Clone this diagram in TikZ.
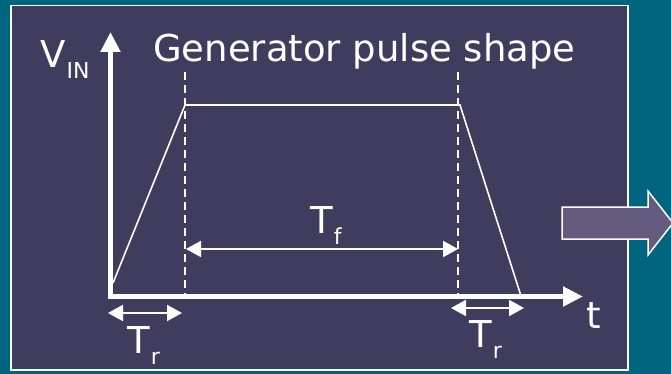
\documentclass[tikz,border=0pt]{standalone}
\usepackage{fontspec}
\setmainfont{DejaVu Sans}
\usetikzlibrary{arrows.meta}
\definecolor{bgteal}{HTML}{006680}
\definecolor{panelcol}{HTML}{3F3D5E}
\definecolor{arrowfill}{HTML}{655B7E}
\newcommand\lowsub[1]{\hspace{1pt}\raisebox{-11pt}{\fontsize{22}{26}\selectfont #1}}
\begin{document}
\begin{tikzpicture}[x=1pt,y=-1pt,
  lbl/.style={text=white,inner sep=0pt,anchor=base west,font=\fontsize{37}{42}\selectfont},
  axisline/.style={white,line width=5pt,-{Triangle[length=20pt 0 1,width=19pt 0 1]}},
  pulse/.style={white,line width=1.6pt,line join=miter},
  guide/.style={white,line width=1.5pt,dash pattern=on 8pt off 5pt},
  dimline/.style={white,line width=2pt,{Triangle[length=15pt 0 1,width=16pt 0 1]}-{Triangle[length=15pt 0 1,width=16pt 0 1]}},
  bigarrow/.style={fill=arrowfill,draw=white,line width=1.5pt,line join=miter},
]
\fill[bgteal] (0,0) rectangle (671,374);
\useasboundingbox (0,0) rectangle (671,374);
\draw[fill=panelcol,draw=white,line width=1.2pt] (11,5.5) rectangle (628,370);

% big arrow
\draw[bigarrow] (562,207) -- (648,207) -- (648,191) -- (673,223) -- (648,255) -- (648,239) -- (562,239) -- cycle;

% coordinates
\coordinate (ybot) at (110.5,299);
\coordinate (ytop) at (110.5,32);
\coordinate (xleft) at (108,296.5);
\coordinate (xright) at (583,296.5);
\coordinate (p0) at (113,283);
\coordinate (p1) at (185,105);
\coordinate (p2) at (460,105);
\coordinate (p3) at (521,296);
\coordinate (d1top) at (185,72);
\coordinate (d1bot) at (185,296);
\coordinate (d2top) at (458,72);
\coordinate (d2bot) at (458,296);
\coordinate (tfl) at (186,249);
\coordinate (tfr) at (458,249);
\coordinate (trla) at (108,313);
\coordinate (trlb) at (182,313);
\coordinate (trra) at (451,308);
\coordinate (trrb) at (524,308);

% guides
\draw[guide] (d1top) -- (d1bot);
\draw[guide] (d2top) -- (d2bot);

% pulse
\draw[pulse] (p0) -- (p1) -- (p2) -- (p3);

% axes
\draw[axisline] (ybot) -- (ytop);
\draw[axisline] (xleft) -- (xright);

% dimension arrows
\draw[dimline] (tfl) -- (tfr);
\draw[dimline] (trla) -- (trlb);
\draw[dimline] (trra) -- (trrb);

% labels
\node[lbl] (title) at (153,62) {Generator pulse shape};
\node[lbl] (vin) at (40,68) {V\lowsub{IN}};
\node[lbl] (tf) at (310,233) {T\lowsub{f}};
\node[lbl] (trl) at (127,353) {T\lowsub{r}};
\node[lbl] (trr) at (469,347) {T\lowsub{r}};
\node[lbl] (tlabel) at (586,328) {t};
\end{tikzpicture}
\end{document}
